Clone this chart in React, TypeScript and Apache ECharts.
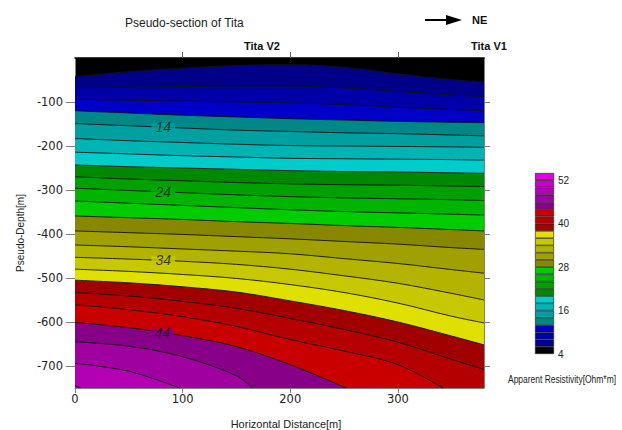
import React, { useEffect, useRef } from 'react';
import * as echarts from 'echarts';

const FONT = '"Liberation Sans", Arial, sans-serif';
const TICK_FONT = '"DejaVu Sans", "Liberation Sans", sans-serif';

const xTicks = [0, 100, 200, 300];
const topTicks = [100, 200, 300];
const yTicks = [-100, -200, -300, -400, -500, -600, -700];
const colorbarTicks = [4, 16, 28, 40, 52];

// resistivity bands 4-6, 6-8, ... 52-54
const bandNames = [
  '4-6', '6-8', '8-10', '10-12', '12-14', '14-16', '16-18', '18-20', '20-22', '22-24',
  '24-26', '26-28', '28-30', '30-32', '32-34', '34-36', '36-38', '38-40', '40-42', '42-44',
  '44-46', '46-48', '48-50', '50-52', '52-54',
];
const bandColors = [
  '#000000', '#000088', '#0000a8', '#0000c8',
  '#008888', '#00a0a0', '#00b4b4', '#00cccc',
  '#008800', '#00a000', '#00b400', '#00cc00',
  '#888800', '#a0a000', '#b4b400', '#c8c800', '#e0e000',
  '#a00000', '#b40000', '#c80000',
  '#880088', '#a000a0', '#b400b4', '#c800c8', '#e000e0',
];

// contour lines (levels 6, 8, ... 50): [horizontal distance, pseudo-depth]
const iso06 = [[0, -42], [50, -31], [100, -23], [150, -17], [200, -15], [250, -21], [300, -36], [350, -49], [380, -54]];
const iso08 = [[0, -67], [50, -66], [100, -65], [150, -64], [200, -64], [250, -68], [300, -76], [350, -84], [380, -88]];
const iso10 = [[0, -94], [50, -96], [100, -98], [150, -100], [200, -102], [250, -106], [300, -112], [350, -117], [380, -120]];
const iso12 = [[0, -120], [50, -125], [100, -130], [150, -134], [200, -138], [250, -141], [300, -144], [350, -146], [380, -147]];
const iso14 = [[0, -149], [50, -154], [100, -159], [150, -164], [200, -167], [250, -170], [300, -172], [350, -175], [380, -177]];
const iso16 = [[0, -183], [50, -188], [100, -192], [150, -196], [200, -199], [250, -200], [300, -201], [350, -202], [380, -203]];
const iso18 = [[0, -214], [50, -218], [100, -222], [150, -225], [200, -228], [250, -229], [300, -230], [350, -231], [380, -232]];
const iso20 = [[0, -243], [50, -247], [100, -250], [150, -253], [200, -256], [250, -258], [300, -259], [350, -261], [380, -262]];
const iso22 = [[0, -270], [50, -275], [100, -279], [150, -283], [200, -286], [250, -288], [300, -289], [350, -291], [380, -292]];
const iso24 = [[0, -296], [50, -301], [100, -306], [150, -311], [200, -315], [250, -318], [300, -320], [350, -322], [380, -324]];
const iso26 = [[0, -325], [50, -330], [100, -335], [150, -340], [200, -345], [250, -349], [300, -352], [350, -355], [380, -357]];
const iso28 = [[0, -359], [50, -363], [100, -367], [150, -372], [200, -376], [250, -381], [300, -385], [350, -390], [380, -393]];
const iso30 = [[0, -393], [50, -397], [100, -401], [150, -406], [200, -411], [250, -417], [300, -423], [350, -431], [380, -435]];
const iso32 = [[0, -425], [50, -429], [100, -434], [150, -439], [200, -445], [250, -456], [300, -467], [350, -481], [380, -489]];
const iso34 = [[0, -453], [50, -457], [100, -462], [150, -469], [200, -480], [250, -495], [300, -512], [350, -535], [380, -550]];
const iso36 = [[0, -480], [50, -485], [100, -492], [150, -501], [200, -515], [250, -533], [300, -557], [350, -587], [380, -602]];
const iso38 = [[0, -505], [50, -511], [100, -520], [150, -532], [200, -552], [250, -574], [300, -600], [350, -632], [380, -652]];
const iso40 = [[0, -533], [50, -541], [100, -553], [150, -569], [200, -592], [250, -617], [300, -646], [350, -685], [380, -708]];
const iso42 = [[0, -561], [50, -572], [100, -588], [150, -610], [200, -640], [250, -666], [300, -697], [342, -750]];
const iso44 = [[0, -601], [50, -613], [100, -631], [150, -656], [200, -697], [252, -750]];
const iso46 = [[0, -645], [50, -655], [100, -679], [150, -722], [165, -750]];
const iso48 = [[0, -694], [50, -712], [97, -750]];
const iso50 = [[0, -745], [5, -750]];

const isolines = [
  iso06, iso08, iso10, iso12, iso14, iso16, iso18, iso20, iso22, iso24, iso26, iso28,
  iso30, iso32, iso34, iso36, iso38, iso40, iso42, iso44, iso46, iso48, iso50,
];

const contourLabelLevels = [14, 24, 34, 44];
const contourLabelDist = [82, 82, 82, 81];
const contourLabelDepth = [-157, -304, -460, -624];

export default function App() {
  const ref = useRef<HTMLDivElement>(null);

  useEffect(() => {
    const chart = echarts.init(ref.current!, null, { renderer: 'svg' });

    const contourSeries = isolines.map((pts, i) => ({
      type: 'line',
      xAxisIndex: 0,
      yAxisIndex: 0,
      data: pts,
      smooth: 0.35,
      symbol: 'none',
      silent: true,
      lineStyle: { color: '#111', width: 0.9 },
      areaStyle: { color: bandColors[i + 1], opacity: 1, origin: 'start' },
      z: 2,
    }));

    const labelData = contourLabelDist.map((d, i) => {
      const lvl = contourLabelLevels[i];
      const bg = bandColors[(lvl - 4) / 2];
      return {
        value: [d, contourLabelDepth[i]],
        label: { backgroundColor: bg },
      };
    });

    const option = {
      animation: false,
      textStyle: { fontFamily: FONT },
      grid: [
        { left: 75, top: 58, right: 138, bottom: 42, show: true, backgroundColor: bandColors[0], borderWidth: 0 },
        { left: 535, top: 173, width: 19, height: 181 },
      ],
      xAxis: [
        {
          type: 'value', gridIndex: 0, position: 'bottom', min: 0, max: 380,
          axisLine: { show: true, onZero: false, lineStyle: { color: '#808080', width: 1 } },
          axisTick: { show: true, length: 5, customValues: xTicks, lineStyle: { color: '#808080' } },
          axisLabel: { customValues: xTicks, margin: 5, fontSize: 11.5, color: '#222', fontFamily: TICK_FONT },
          splitLine: { show: false },
        },
        {
          type: 'value', gridIndex: 0, position: 'top', min: 0, max: 380,
          axisLine: { show: true, onZero: false, lineStyle: { color: '#000', width: 1.5 } },
          axisTick: { show: true, length: 6, customValues: topTicks, lineStyle: { color: '#666' } },
          axisLabel: { show: false },
          splitLine: { show: false },
        },
        { type: 'value', gridIndex: 1, min: 0, max: 1, show: false },
      ],
      yAxis: [
        {
          type: 'value', gridIndex: 0, position: 'left', min: -750, max: 0,
          axisLine: { show: true, onZero: false, lineStyle: { color: '#808080', width: 1 } },
          axisTick: { show: true, length: 9, customValues: yTicks, lineStyle: { color: '#808080' } },
          axisLabel: { customValues: yTicks, margin: 12, fontSize: 11.5, color: '#222', fontFamily: TICK_FONT },
          splitLine: { show: false },
        },
        {
          type: 'value', gridIndex: 0, position: 'right', min: -750, max: 0,
          axisLine: { show: true, onZero: false, lineStyle: { color: '#808080', width: 1 } },
          axisTick: { show: true, length: 6, customValues: yTicks, lineStyle: { color: '#808080' } },
          axisLabel: { show: false },
          splitLine: { show: false },
        },
        { type: 'category', gridIndex: 1, data: bandNames, show: false },
        {
          type: 'value', gridIndex: 1, position: 'right', min: 4, max: 54,
          axisLine: { show: false }, axisTick: { show: false }, splitLine: { show: false },
          axisLabel: { customValues: colorbarTicks, margin: 4, fontSize: 10, color: '#222', fontFamily: FONT },
        },
      ],
      series: [
        ...contourSeries,
        {
          type: 'scatter',
          xAxisIndex: 0,
          yAxisIndex: 0,
          silent: true,
          data: labelData,
          symbolSize: 1,
          itemStyle: { color: 'transparent' },
          z: 5,
          label: {
            show: true,
            position: 'inside',
            formatter: (p: any) => String(contourLabelLevels[p.dataIndex]),
            fontStyle: 'italic',
            fontSize: 14,
            lineHeight: 8,
            padding: [0, 4],
            color: '#111',
            fontFamily: FONT,
          },
        },
        {
          type: 'bar',
          xAxisIndex: 2,
          yAxisIndex: 2,
          silent: true,
          barWidth: '100%',
          barCategoryGap: '0%',
          data: bandColors.map((c) => ({ value: 1, itemStyle: { color: c } })),
          itemStyle: { borderColor: '#1a1a1a', borderWidth: 0.6 },
        },
      ],
      graphic: [
        { type: 'text', left: 125, top: 17, style: { text: 'Pseudo-section of Tita', fontSize: 12, fontFamily: FONT, fill: '#222' } },
        { type: 'line', shape: { x1: 425, y1: 20, x2: 449, y2: 20 }, style: { stroke: '#000', lineWidth: 2 } },
        { type: 'polygon', shape: { points: [[446, 15], [462, 20], [446, 25]] }, style: { fill: '#000' } },
        { type: 'text', left: 472, top: 14, style: { text: 'NE', fontSize: 11, fontWeight: 'bold', fontFamily: FONT, fill: '#111' } },
        { type: 'text', left: 244, top: 40, style: { text: 'Tita V2', fontSize: 11, fontWeight: 'bold', fontFamily: FONT, fill: '#111' } },
        { type: 'text', left: 471, top: 40, style: { text: 'Tita V1', fontSize: 11, fontWeight: 'bold', fontFamily: FONT, fill: '#111' } },
        {
          type: 'text', x: 20, y: 233, rotation: Math.PI / 2,
          style: { text: 'Pseudo-Depth[m]', fontSize: 10, fontFamily: FONT, fill: '#222', align: 'center', verticalAlign: 'middle' },
        },
        {
          type: 'text', x: 286, y: 424,
          style: { text: 'Horizontal Distance[m]', fontSize: 11, fontFamily: FONT, fill: '#222', align: 'center', verticalAlign: 'middle' },
        },
        {
          type: 'text', x: 508, y: 379, scaleX: 0.77,
          style: { text: 'Apparent Resistivity[Ohm*m]', fontSize: 11, fontFamily: FONT, fill: '#222', verticalAlign: 'middle' },
        },
      ],
    };

    chart.setOption(option as any);
    return () => chart.dispose();
  }, []);

  return <div ref={ref} style={{ position: 'absolute', left: 0, top: 0, width: 622, height: 430 }} />;
}
